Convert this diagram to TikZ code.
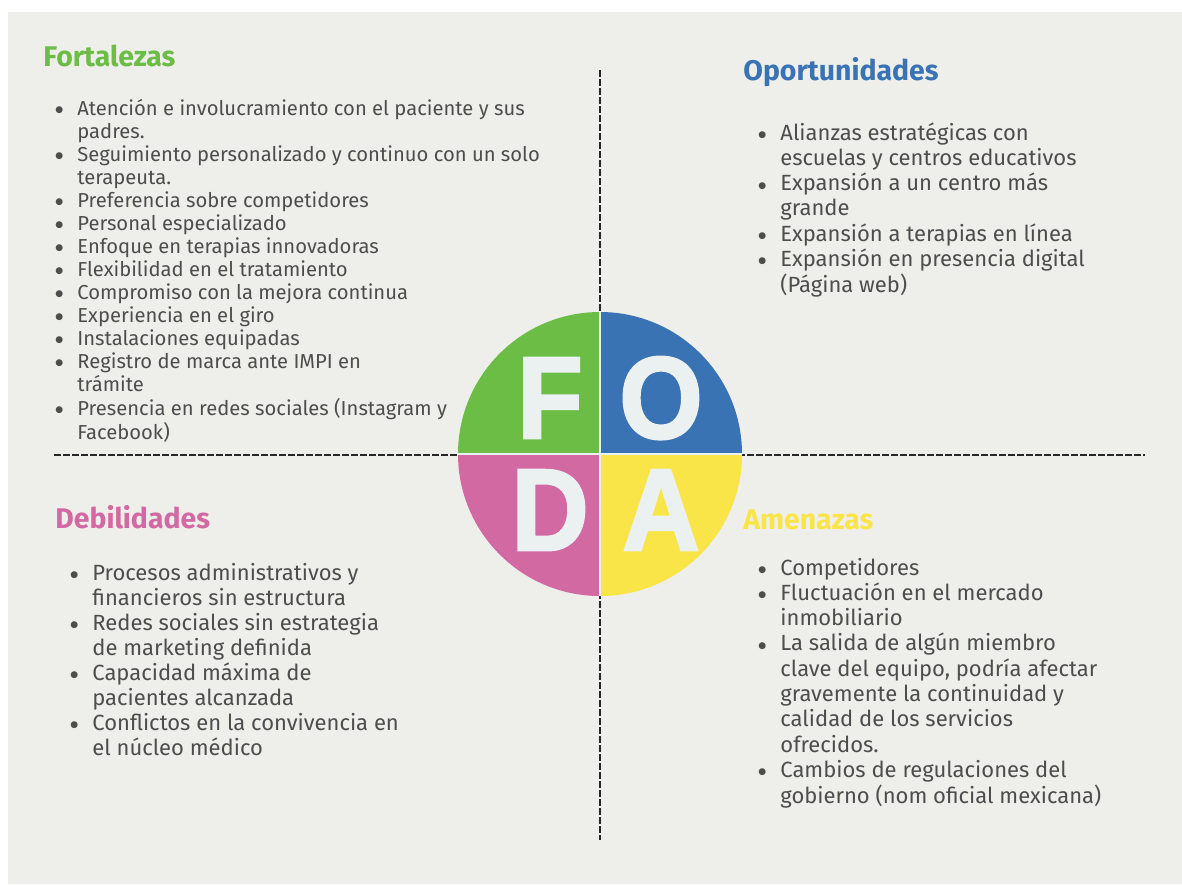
\documentclass[tikz,border=0pt]{standalone}
\usepackage{fontspec}
\setmainfont{Fira Sans}
\newfontfamily\letterfont{Liberation Sans}[BoldFeatures={FakeBold=2.5}]
\newfontfamily\dotfont{DejaVu Sans}
\usetikzlibrary{positioning}

\definecolor{panel}{HTML}{EEEEEA}
\definecolor{fgreen}{HTML}{6BBD45}
\definecolor{oblue}{HTML}{3973B4}
\definecolor{dpink}{HTML}{D269A3}
\definecolor{ayellow}{HTML}{F9E548}
\definecolor{letter}{HTML}{EBF0F0}
\definecolor{body}{HTML}{4D4D4D}

\newcommand{\itm}{\makebox[11pt][l]{\raisebox{1.3pt}{\dotfont\fontsize{4.5}{5}\selectfont ●}}}

\begin{document}
\begin{tikzpicture}[x=0.5pt,y=-0.5pt,
    title/.style={anchor=base west,inner sep=0pt,font=\fontsize{14.2}{16}\selectfont\bfseries},
    list/.style={anchor=base west,inner sep=0pt,text=body,align=left},
    big letter/.style={anchor=base,inner sep=0pt,text=letter,xscale=0.92,font=\fontsize{58}{60}\selectfont\letterfont\bfseries},
    split/.style={draw=black!85,line width=1pt,dash pattern=on 3.4pt off 1.1pt}]

  \useasboundingbox (0,0) rectangle (1182,884);
  \fill[panel] (8,12) rectangle (1182,884);

  % dashed cross behind the wheel
  \coordinate (vtop) at (600,70);
  \coordinate (vbot) at (600,840);
  \coordinate (hleft) at (54,455);
  \coordinate (hright) at (1145,455);
  \draw[split] (vtop) -- (vbot);
  \draw[split] (hleft) -- (hright);

  % FODA wheel
  \coordinate (c) at (600,454);
  \fill[fgreen] (c) -- ++(180:142) arc[start angle=180,end angle=270,radius=142] -- cycle;
  \fill[oblue] (c) -- ++(270:142) arc[start angle=270,end angle=360,radius=142] -- cycle;
  \fill[ayellow] (c) -- ++(0:142) arc[start angle=0,end angle=90,radius=142] -- cycle;
  \fill[dpink] (c) -- ++(90:142) arc[start angle=90,end angle=180,radius=142] -- cycle;
  \draw[letter,line width=0.6pt] (c) ++(-142,0) -- ++(284,0);
  \draw[letter,line width=0.6pt] (c) ++(0,-142) -- ++(0,284);

  \node[big letter] (F) at (550,438) {F};
  \node[big letter] (O) at (661,438) {O};
  \node[big letter] (D) at (550,550) {D};
  \node[big letter] (A) at (661,550) {A};

  \node[title,text=fgreen] (ftitle) at (43,66) {Fortalezas};
  \node[title,text=oblue] (otitle) at (743,80) {Oportunidades};
  \node[title,text=dpink] (dtitle) at (55,528) {Debilidades};
  \node[title,text=ayellow] (atitle) at (743,529) {Amenazas};

  \node[list,font=\fontsize{10.1}{11.5}\selectfont] (flist) at (55,115) {%
    \begin{tabular}[t]{@{}l@{}l@{}}
      \itm & Atención e involucramiento con el paciente y sus\\
           & padres.\\
      \itm & Seguimiento personalizado y continuo con un solo\\
           & terapeuta.\\
      \itm & Preferencia sobre competidores\\
      \itm & Personal especializado\\
      \itm & Enfoque en terapias innovadoras\\
      \itm & Flexibilidad en el tratamiento\\
      \itm & Compromiso con la mejora continua\\
      \itm & Experiencia en el giro\\
      \itm & Instalaciones equipadas\\
      \itm & Registro de marca ante IMPI en\\
           & trámite\\
      \itm & Presencia en redes sociales (Instagram y\\
           & Facebook)
    \end{tabular}};

  \node[list,font=\fontsize{11}{12.65}\selectfont] (olist) at (758,140) {%
    \begin{tabular}[t]{@{}l@{}l@{}}
      \itm & Alianzas estratégicas con\\
           & escuelas y centros educativos\\
      \itm & Expansión a un centro más\\
           & grande\\
      \itm & Expansión a terapias en línea\\
      \itm & Expansión en presencia digital\\
           & (Página web)
    \end{tabular}};

  \node[list,font=\fontsize{11}{12.5}\selectfont] (dlist) at (70,580) {%
    \begin{tabular}[t]{@{}l@{}l@{}}
      \itm & Procesos administrativos y\\
           & financieros sin estructura\\
      \itm & Redes sociales sin estrategia\\
           & de marketing definida\\
      \itm & Capacidad máxima de\\
           & pacientes alcanzada\\
      \itm & Conflictos en la convivencia en\\
           & el núcleo médico
    \end{tabular}};

  \node[list,font=\fontsize{11}{12.65}\selectfont] (alist) at (758,575) {%
    \begin{tabular}[t]{@{}l@{}l@{}}
      \itm & Competidores\\
      \itm & Fluctuación en el mercado\\
           & inmobiliario\\
      \itm & La salida de algún miembro\\
           & clave del equipo, podría afectar\\
           & gravemente la continuidad y\\
           & calidad de los servicios\\
           & ofrecidos.\\
      \itm & Cambios de regulaciones del\\
           & gobierno (nom oficial mexicana)
    \end{tabular}};
\end{tikzpicture}
\end{document}
